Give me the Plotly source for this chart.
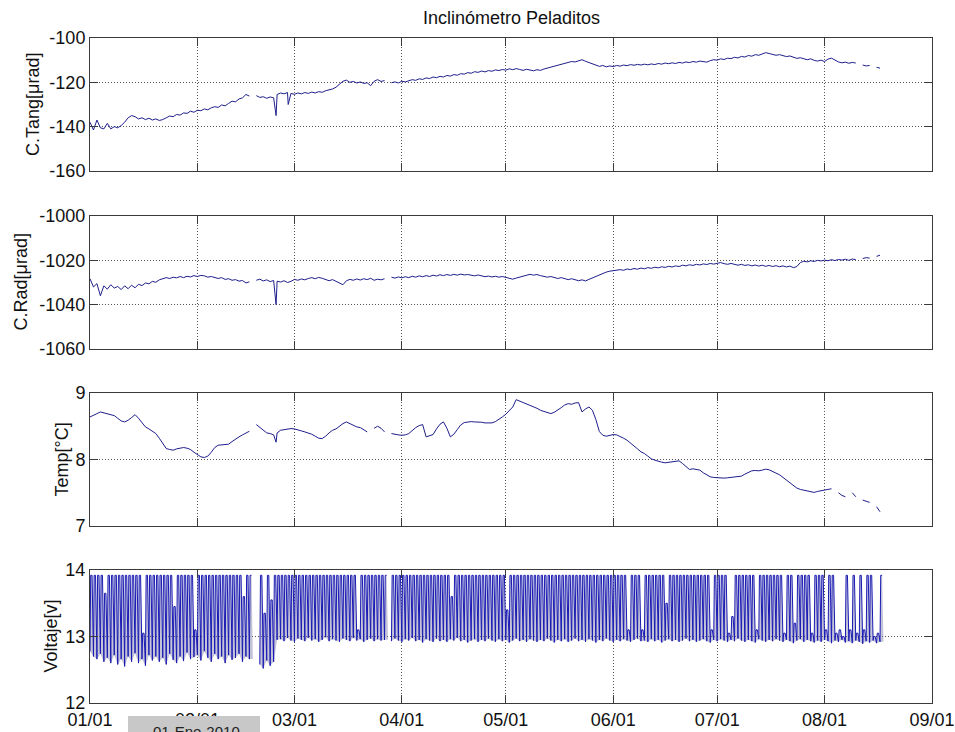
import pandas as pd
import plotly.graph_objects as go

START = pd.Timestamp("2010-01-01")

MONTH_TICKS = ["2010-01-01", "2010-02-01", "2010-03-01", "2010-04-01", "2010-05-01",
               "2010-06-01", "2010-07-01", "2010-08-01", "2010-09-01"]
MONTH_LABELS = ["01/01", "02/01", "03/01", "04/01", "05/01", "06/01", "07/01", "08/01", "09/01"]

# Daily readings, one value per day starting 2010-01-01 (None = no data)
TANG = [
    -138.0, -141.5, -137.0, -140.5, -141.0, -138.5, -141.0, -140.0, -140.5, -139.5,
    -138.0, -136.0, -135.0, -135.5, -136.5, -136.0, -136.8, -136.2, -137.0, -136.5,
    -137.2, -136.8, -136.0, -135.2, -135.5, -134.5, -134.8, -133.8, -134.0, -133.0,
    -133.5, -132.6, -132.8, -132.0, -132.4, -131.5, -131.0, -131.3, -130.2, -130.6,
    -129.5, -128.5, -128.8, -127.5, -127.0, -125.5, -126.2, None, -126.0, -126.8,
    -126.5, -127.2, -126.6, -127.0, -125.5, -124.8, -125.2, -124.6, -125.0, -125.4,
    -124.8, -125.2, -124.6, -125.0, -124.4, -124.8, -124.2, -124.5, -123.8, -123.5,
    -123.0, -122.2, -121.0, -119.5, -119.0, -120.0, -119.6, -120.3, -119.8, -120.5,
    -120.2, -121.5, -119.5, -118.8, -119.6, -119.2, None, -120.2, -119.8, -120.3,
    -119.5, -119.8, -119.2, -118.8, -119.1, -118.4, -118.7, -118.0, -118.3, -117.6,
    -117.9, -117.3, -117.6, -116.9, -117.2, -116.5, -116.8, -116.1, -116.3, -115.6,
    -115.9, -115.2, -115.5, -114.9, -115.3, -114.7, -115.0, -114.4, -114.7, -114.2,
    -114.5, -113.9, -114.3, -113.8, -114.2, -114.6, -114.1, -114.5, -114.8, -114.3,
    -114.6, -114.0, -113.6, -113.2, -112.8, -112.3, -112.0, -111.5, -111.2, -110.6,
    -110.8, -110.2, -109.8, -110.5, -111.0, -111.8, -112.2, -112.8, -112.4, -113.0,
    -112.6, -112.9, -112.4, -112.7, -112.2, -112.5, -112.0, -112.3, -111.9, -112.2,
    -111.8, -112.1, -111.7, -112.0, -111.5, -111.8, -111.3, -111.6, -111.2, -111.5,
    -111.0, -111.3, -110.8, -111.1, -110.6, -110.9, -110.4, -110.7, -110.9, -110.2,
    -109.8, -110.0, -109.4, -109.7, -109.1, -109.3, -108.7, -109.0, -108.3, -108.6,
    -107.9, -108.2, -107.5, -107.8, -107.1, -106.6, -107.0, -107.3, -107.8, -107.5,
    -108.1, -108.4, -108.1, -108.8, -109.2, -108.9, -109.5, -109.8, -109.4, -110.1,
    -110.4, -110.0, -110.6, -109.5, -109.1, -110.0, -110.8, -111.2, -110.9, -111.4,
    -111.0, -111.3, None, -112.2, -112.6, -112.4, None, -113.2, -113.6,
]

RAD = [
    -1028.3, -1032.0, -1030.5, -1036.0, -1031.5, -1033.0, -1031.0, -1032.5, -1031.8, -1033.2,
    -1031.5, -1032.8, -1031.2, -1032.4, -1030.8, -1031.4, -1030.2, -1030.6, -1029.5, -1029.9,
    -1028.8, -1028.4, -1027.8, -1028.2, -1027.6, -1027.9, -1027.3, -1027.8, -1027.2, -1027.5,
    -1026.9, -1027.3, -1026.8, -1027.0, -1027.6, -1027.3, -1027.9, -1028.2, -1027.8, -1028.6,
    -1028.3, -1029.0, -1028.7, -1029.4, -1029.1, -1030.2, -1029.7, None, -1029.0, -1028.5,
    -1029.3, -1028.8, -1029.6, -1029.1, -1029.4, -1029.8, -1029.2, -1030.0, -1029.5, -1028.6,
    -1029.0, -1028.4, -1028.8, -1028.2, -1027.8, -1028.3, -1027.7, -1028.1, -1028.6, -1029.2,
    -1028.7, -1029.5, -1030.4, -1031.0, -1029.2, -1028.6, -1029.0, -1028.4, -1028.9, -1028.3,
    -1028.7, -1028.1, -1029.0, -1028.5, -1028.8, -1028.3, None, -1027.6, -1028.0, -1027.5,
    -1027.9, -1027.4, -1027.8, -1027.2, -1027.6, -1027.0, -1027.4, -1026.9, -1027.3, -1026.7,
    -1027.1, -1026.5, -1026.9, -1026.4, -1026.8, -1026.3, -1026.7, -1026.2, -1026.6, -1026.4,
    -1026.8, -1027.0, -1026.6, -1027.0, -1027.4, -1027.1, -1027.5, -1027.2, -1027.6, -1027.3,
    -1027.8, -1028.2, -1028.5, -1028.0, -1027.6, -1027.1, -1026.6, -1026.3, -1026.7, -1026.4,
    -1026.9, -1027.2, -1027.6, -1027.3, -1027.9, -1028.2, -1027.8, -1028.4, -1028.7, -1028.3,
    -1028.9, -1029.2, -1028.8, -1029.3, -1028.6, -1027.9, -1027.2, -1026.4, -1025.8, -1025.3,
    -1024.9, -1024.6, -1024.3, -1024.2, -1024.5, -1023.9, -1024.2, -1023.7, -1024.0, -1023.5,
    -1023.8, -1023.3, -1023.6, -1023.1, -1023.4, -1022.9, -1023.2, -1022.7, -1023.0, -1022.5,
    -1022.8, -1022.2, -1022.5, -1022.0, -1022.3, -1021.8, -1022.1, -1021.6, -1021.9, -1021.4,
    -1021.7, -1021.2, -1021.0, -1021.5, -1021.8, -1021.4, -1021.9, -1022.2, -1021.8, -1022.3,
    -1022.0, -1022.5, -1022.1, -1022.6, -1022.2, -1022.7, -1022.3, -1022.8, -1022.4, -1022.9,
    -1022.5, -1023.0, -1022.6, -1023.3, -1022.8, -1021.0, -1020.4, -1020.7, -1020.2, -1020.5,
    -1020.0, -1020.3, -1019.9, -1020.2, -1019.7, -1020.1, -1019.6, -1019.9, -1019.5, -1020.0,
    -1019.4, -1019.7, None, -1019.2, -1018.8, -1019.0, None, -1018.2, -1017.7,
]

TEMP = [
    8.64, 8.66, 8.69, 8.715, 8.70, 8.69, 8.68, 8.66, 8.62, 8.58,
    8.565, 8.59, 8.63, 8.675, 8.62, 8.55, 8.49, 8.46, 8.43, 8.39,
    8.32, 8.24, 8.165, 8.15, 8.14, 8.16, 8.17, 8.18, 8.17, 8.15,
    8.11, 8.07, 8.04, 8.03, 8.05, 8.11, 8.18, 8.215, 8.22, 8.225,
    8.23, 8.27, 8.31, 8.34, 8.37, 8.40, 8.425, None, 8.525, 8.48,
    8.43, 8.40, 8.39, 8.37, 8.40, 8.44, 8.45, 8.465, 8.465, 8.46,
    8.44, 8.43, 8.415, 8.40, 8.38, 8.35, 8.32, 8.315, 8.35, 8.40,
    8.44, 8.46, 8.50, 8.54, 8.565, 8.54, 8.51, 8.49, 8.48, 8.45,
    8.415, None, 8.47, 8.50, 8.47, 8.415, None, 8.39, 8.375, 8.37,
    8.365, 8.37, 8.39, 8.44, 8.48, 8.51, 8.525, 8.34, 8.36, 8.375,
    8.46, 8.53, 8.565, 8.47, 8.34, 8.38, 8.45, 8.52, 8.555, 8.565,
    8.57, 8.565, 8.565, 8.56, 8.55, 8.55, 8.55, 8.57, 8.60, 8.64,
    8.68, 8.73, 8.79, 8.90, 8.88, 8.86, 8.84, 8.815, 8.79, 8.77,
    8.74, 8.72, 8.70, 8.69, 8.71, 8.74, 8.78, 8.82, 8.84, 8.83,
    8.85, 8.855, 8.715, 8.76, 8.79, 8.74, 8.60, 8.42, 8.365, 8.35,
    8.36, 8.375, 8.37, 8.35, 8.32, 8.29, 8.25, 8.20, 8.16, 8.115,
    8.09, 8.05, 8.01, 7.99, 7.97, 7.96, 7.95, 7.955, 7.96, 7.97,
    7.98, 7.94, 7.89, 7.85, 7.86, 7.85, 7.84, 7.80, 7.77, 7.74,
    7.73, 7.725, 7.73, 7.72, 7.725, 7.73, 7.735, 7.74, 7.75, 7.78,
    7.81, 7.83, 7.835, 7.83, 7.84, 7.855, 7.845, 7.82, 7.79, 7.77,
    7.73, 7.69, 7.64, 7.60, 7.57, 7.55, 7.54, 7.52, 7.51, 7.505,
    7.52, 7.535, 7.54, 7.55, 7.56, None, 7.50, 7.46, 7.44, None,
    7.50, 7.44, None, 7.39, 7.375, 7.355, None, 7.29, 7.215,
]

# Short transients (fractional day, value)
SPIKE_DAYS = [53.7, 57.2]
TANG_SPIKES = [-135.0, -130.0]
RAD_SPIKES = [-1040.0, None]
TEMP_SPIKES = [8.26, None]

# Battery voltage: daily minimum and daily charge peak
VOLT_LOW = [
    12.78, 12.70, 12.66, 12.74, 12.62, 12.68, 12.60, 12.72, 12.58, 12.66,
    12.55, 12.70, 12.62, 12.75, 12.60, 12.66, 12.56, 12.72, 12.64, 12.70,
    12.62, 12.68, 12.58, 12.74, 12.65, 12.60, 12.70, 12.63, 12.76, 12.66,
    12.69, 12.72, 12.64, 12.78, 12.68, 12.62, 12.74, 12.66, 12.70, 12.60,
    12.72, 12.65, 12.68, 12.74, 12.62, 12.70, 12.66, None, None, 12.58,
    12.52, 12.64, 12.56, 12.62, 12.95, 12.96, 12.93, 12.98, 12.94, 12.92,
    12.97, 12.95, 12.93, 12.98, 12.94, 12.96, 12.92, 12.95, 12.99, 12.93,
    12.96, 12.94, 12.92, 12.97, 12.95, 12.93, 12.98, 12.94, 12.96, 12.92,
    12.95, 12.97, 12.93, 12.96, 12.94, 12.95, None, 12.93, 12.97, 12.94,
    12.92, 12.96, 12.94, 12.98, 12.93, 12.95, 12.91, 12.96, 12.94, 12.92,
    12.97, 12.93, 12.95, 12.92, 12.96, 12.94, 12.98, 12.93, 12.95, 12.91,
    12.94, 12.96, 12.92, 12.95, 12.93, 12.97, 12.94, 12.92, 12.96, 12.93,
    12.95, 12.91, 12.94, 12.97, 12.93, 12.95, 12.92, 12.96, 12.94, 12.92,
    12.95, 12.93, 12.97, 12.94, 12.91, 12.95, 12.93, 12.96, 12.92, 12.94,
    12.97, 12.93, 12.95, 12.92, 12.96, 12.94, 12.91, 12.95, 12.93, 12.97,
    12.94, 12.92, 12.95, 12.93, 12.96, 12.94, 12.92, 12.95, 12.97, 12.93,
    12.94, 12.92, 12.96, 12.93, 12.95, 12.91, 12.94, 12.96, 12.93, 12.95,
    12.92, 12.94, 12.97, 12.93, 12.95, 12.92, 12.94, 12.96, 12.93, 12.91,
    12.95, 12.93, 12.96, 12.94, 12.92, 12.95, 12.93, 12.97, 12.94, 12.92,
    12.95, 12.93, 12.91, 12.96, 12.94, 12.92, 12.95, 12.93, 12.96, 12.94,
    12.92, 12.95, 12.93, 12.90, 12.94, 12.96, 12.92, 12.95, 12.93, 12.91,
    12.94, 12.92, 12.95, 12.93, 12.90, 12.94, 12.92, 12.95, 12.91, 12.93,
    12.90, 12.94, 12.92, 12.89, 12.93, 12.91, 12.94, 12.90, 12.92,
]

VOLT_PEAK = [
    13.92, 13.92, 13.92, 13.92, 13.65, 13.92, 13.92, 13.92, 13.92, 13.92,
    13.92, 13.92, 13.92, 13.92, 13.92, 13.05, 13.92, 13.92, 13.92, 13.92,
    13.92, 13.92, 13.92, 13.92, 13.45, 13.92, 13.92, 13.92, 13.92, 13.92,
    13.10, 13.92, 13.92, 13.92, 13.92, 13.92, 13.92, 13.92, 13.92, 13.92,
    13.92, 13.92, 13.92, 13.92, 13.60, 13.92, 13.92, None, None, 13.92,
    13.35, 13.92, 13.55, 13.92, 13.92, 13.92, 13.92, 13.92, 13.92, 13.92,
    13.92, 13.92, 13.92, 13.92, 13.92, 13.92, 13.92, 13.92, 13.92, 13.92,
    13.92, 13.92, 13.92, 13.92, 13.92, 13.92, 13.92, 13.10, 13.92, 13.92,
    13.92, 13.92, 13.92, 13.92, 13.92, 13.92, None, 13.92, 13.92, 13.92,
    13.92, 13.92, 13.92, 13.92, 13.92, 13.92, 13.92, 13.92, 13.92, 13.92,
    13.92, 13.92, 13.92, 13.92, 13.60, 13.92, 13.92, 13.92, 13.92, 13.92,
    13.92, 13.92, 13.92, 13.92, 13.92, 13.92, 13.92, 13.92, 13.92, 13.92,
    13.40, 13.92, 13.92, 13.92, 13.92, 13.92, 13.92, 13.92, 13.92, 13.92,
    13.92, 13.92, 13.92, 13.92, 13.92, 13.92, 13.92, 13.92, 13.92, 13.92,
    13.92, 13.92, 13.92, 13.92, 13.92, 13.92, 13.92, 13.92, 13.92, 13.92,
    13.92, 13.92, 13.92, 13.92, 13.92, 13.10, 13.92, 13.92, 13.92, 13.10,
    13.92, 13.92, 13.92, 13.92, 13.92, 13.92, 13.50, 13.92, 13.92, 13.92,
    13.92, 13.92, 13.92, 13.92, 13.92, 13.92, 13.92, 13.92, 13.92, 13.10,
    13.92, 13.92, 13.92, 13.92, 13.05, 13.30, 13.92, 13.92, 13.92, 13.92,
    13.92, 13.92, 13.10, 13.92, 13.92, 13.92, 13.92, 13.92, 13.92, 13.92,
    13.05, 13.92, 13.92, 13.20, 13.92, 13.92, 13.92, 13.92, 13.05, 13.92,
    13.92, 13.92, 13.10, 13.92, 13.92, 13.05, 13.10, 13.00, 13.92, 13.10,
    13.92, 13.05, 13.92, 13.10, 13.92, 13.92, 13.00, 13.05, 13.92,
]

TANG_TICKS = [-160, -140, -120, -100]
RAD_TICKS = [-1060, -1040, -1020, -1000]
TEMP_TICKS = [7, 8, 9]
VOLT_TICKS = [12, 13, 14]

# ---------------------------------------------------------------- helpers
def day_to_date(d):
    return START + pd.Timedelta(days=d)


def daily_series(values, spike_days=(), spike_vals=()):
    pts = [(float(d), v) for d, v in enumerate(values)]
    pts += [(d, v) for d, v in zip(spike_days, spike_vals) if v is not None]
    pts.sort(key=lambda p: p[0])
    return [day_to_date(d) for d, _ in pts], [v for _, v in pts]


RISE, HOLD = 0.2, 0.6  # charge ramp and plateau, as fractions of a day


def charge_line(lows, peaks):
    xs, ys = [], []
    for d, (lo, pk) in enumerate(zip(lows, peaks)):
        if lo is None:
            xs.append(day_to_date(d))
            ys.append(None)
            continue
        for frac, val in ((0.0, lo), (RISE, pk), (HOLD, pk)):
            xs.append(day_to_date(d + frac))
            ys.append(val)
    return xs, ys


def charge_teeth(lows, peaks):
    """One closed polygon per daily cycle, separated by gaps."""
    xs, ys = [], []
    n = len(lows)
    for d in range(n):
        lo, pk = lows[d], peaks[d]
        nxt = lows[d + 1] if d + 1 < n else None
        if lo is None:
            continue
        end = nxt if nxt is not None else lo
        for frac, val in ((0.0, lo), (RISE, pk), (HOLD, pk), (1.0, end)):
            xs.append(day_to_date(d + frac))
            ys.append(val)
        xs.append(day_to_date(d + 1.0))
        ys.append(None)
    return xs, ys


# ---------------------------------------------------------------- figure
FONT = "Liberation Sans, Arial, Helvetica, sans-serif"
AXIS_COLOR = "#3a3a3a"
GRID_COLOR = "#555555"
TRACE_COLOR = "#1e1e8c"
VOLT_COLOR = "#1a1ab4"
VOLT_FILL = "rgba(125,125,170,0.45)"

L, R, T, B = 90, 23, 38, 29
W, H = 955, 732
plot_h = H - T - B
plot_w = W - L - R
panels_px = [(38, 171), (216, 349), (393, 526), (570, 703)]
domains = [[(H - B - bot) / plot_h, (H - B - top) / plot_h] for top, bot in panels_px]

fig = go.Figure()

tx, ty = daily_series(TANG, SPIKE_DAYS, TANG_SPIKES)
rx, ry = daily_series(RAD, SPIKE_DAYS, RAD_SPIKES)
mx, my = daily_series(TEMP, SPIKE_DAYS, TEMP_SPIKES)
vx, vy = charge_line(VOLT_LOW, VOLT_PEAK)
fx, fy = charge_teeth(VOLT_LOW, VOLT_PEAK)

fig.add_trace(go.Scatter(
    x=fx, y=fy, mode="lines", fill="toself", fillcolor=VOLT_FILL,
    line=dict(width=0, color=VOLT_FILL), connectgaps=False,
    hoverinfo="skip", showlegend=False, xaxis="x4", yaxis="y4",
))

series = [(tx, ty, TRACE_COLOR, 1), (rx, ry, TRACE_COLOR, 2),
          (mx, my, TRACE_COLOR, 3), (vx, vy, VOLT_COLOR, 4)]
for x, y, c, i in series:
    fig.add_trace(go.Scatter(
        x=x, y=y, mode="lines", line=dict(color=c, width=1),
        connectgaps=False, hoverinfo="skip", showlegend=False,
        xaxis="x" if i == 1 else f"x{i}", yaxis="y" if i == 1 else f"y{i}",
    ))

common_axis = dict(
    showline=True, linecolor=AXIS_COLOR, linewidth=1, mirror="ticks",
    ticks="inside", ticklen=8, tickcolor=AXIS_COLOR, tickwidth=1,
    showgrid=True, gridcolor=GRID_COLOR, gridwidth=1, griddash="1px,2px",
    zeroline=False, automargin=False,
    tickfont=dict(family=FONT, size=18, color="#111"),
)

y_specs = [
    (TANG_TICKS, "C.Tang[μrad]", 33.5),
    (RAD_TICKS, "C.Rad[μrad]", 20),
    (TEMP_TICKS, "Temp[°C]", 61),
    (VOLT_TICKS, "Voltaje[v]", 50),
]

layout = dict(
    width=W, height=H, margin=dict(l=L, r=R, t=T, b=B, autoexpand=False),
    paper_bgcolor="white", plot_bgcolor="white",
    font=dict(family=FONT, size=18, color="#111"),
    showlegend=False,
)

annotations = []
for i, (ticks, label, cx) in enumerate(y_specs, start=1):
    xk = "xaxis" if i == 1 else f"xaxis{i}"
    yk = "yaxis" if i == 1 else f"yaxis{i}"
    ya = "y" if i == 1 else f"y{i}"
    layout[xk] = dict(
        common_axis, type="date", domain=[0, 1], anchor=ya,
        range=[MONTH_TICKS[0], MONTH_TICKS[-1]],
        tickmode="array", tickvals=MONTH_TICKS, ticktext=MONTH_LABELS,
        showticklabels=(i == 4),
    )
    layout[yk] = dict(
        common_axis, domain=domains[i - 1], anchor="x" if i == 1 else f"x{i}",
        range=[ticks[0], ticks[-1]], tickmode="array", tickvals=ticks,
        ticktext=[str(t) for t in ticks],
    )
    annotations.append(dict(
        text=label, textangle=-90, xref="paper", yref="paper",
        x=(cx - L) / plot_w, y=sum(domains[i - 1]) / 2,
        xanchor="center", yanchor="middle", showarrow=False,
        font=dict(family=FONT, size=18, color="#111"),
    ))

annotations.append(dict(
    text="Inclinómetro Peladitos", xref="paper", yref="paper",
    x=0.5, y=(H - B - 18) / plot_h, xanchor="center", yanchor="middle",
    showarrow=False, font=dict(family=FONT, size=18, color="#111"),
))

# date readout box below the bottom axis
box_x0, box_x1, box_top = 128, 260, 716
annotations.append(dict(
    text="01-Ene-2010", xref="paper", yref="paper",
    x=(196 - L) / plot_w, y=(H - B - 721) / plot_h,
    xanchor="center", yanchor="top", showarrow=False,
    font=dict(family=FONT, size=15, color="#222"),
))
layout["annotations"] = annotations
layout["shapes"] = [dict(
    type="rect", xref="paper", yref="paper", layer="above",
    x0=(box_x0 - L) / plot_w, x1=(box_x1 - L) / plot_w,
    y0=(H - B - box_top) / plot_h, y1=(H - B - 760) / plot_h,
    fillcolor="#c8c8c8", line=dict(width=0),
)]

fig.update_layout(**layout)
fig.write_html("out.html", config={"displayModeBar": False})
